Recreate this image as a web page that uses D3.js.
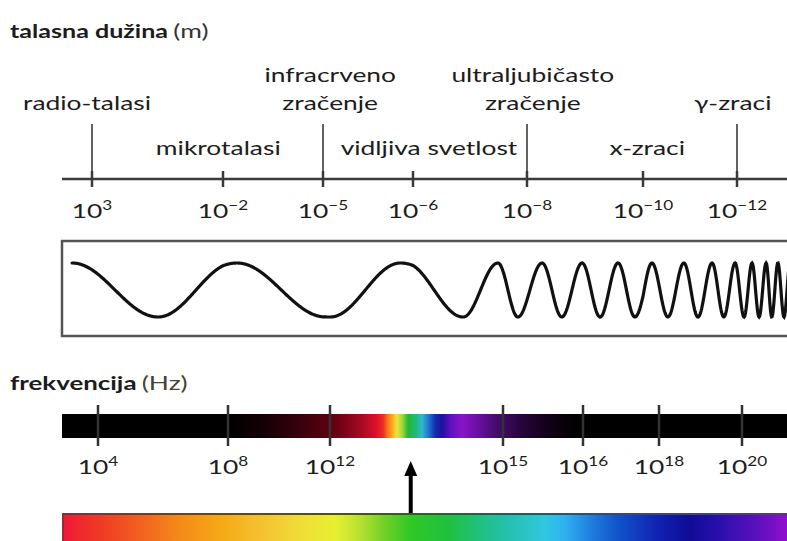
<!DOCTYPE html>
<html><head><meta charset="utf-8">
<script src="https://cdn.jsdelivr.net/npm/d3@7/dist/d3.min.js"></script>
<style>html,body{margin:0;padding:0;background:#fff;}svg{display:block;}</style>
</head><body>
<svg id="c" width="787" height="541"></svg>
<script>
// ---------- data ----------
const wlExponents   = [3, -2, -5, -6, -8, -10, -12];      // wavelength ticks 10^n m
const freqExponents = [4, 8, 12, 15, 16, 18, 20];         // frequency ticks 10^n Hz
const bandLines   = [["radio-talasi"], ["mikrotalasi"], ["infracrveno", "zračenje"], ["vidljiva svetlost"],
                     ["ultraljubičasto", "zračenje"], ["x-zraci"], ["γ-zraci"]];
const bandAt      = [3.19, -1.82, -5.08, -6.28, -8.1, -10.09, -11.91];   // label centre, wavelength exponent
const bandRow     = [1, 2, 0, 2, 0, 2, 1];
const bandMarker  = [true, false, true, false, true, false, true];
// crests / troughs of the drawn wave, in wavelength-axis exponent units
const waveExtrema = [3.76, 0.48, -2.42, -5.08, -5.86, -6.88, -7.49, -7.84, -8.26, -8.60, -8.95,
                     -9.26, -9.57, -9.86, -10.19, -10.53, -10.87, -11.17, -11.47, -11.72, -11.96,
                     -12.15, -12.32, -12.47, -12.62, -12.74, -12.87, -13.0, -13.13];
const visibleArrowAt = 13.4;   // frequency exponent pointed by the arrow

// ---------- layout / style ----------
const W = 787, H = 541;
const FONT = "Lato, 'Open Sans', sans-serif";
const SX = 1.32;
const TXT = "#1c1c1c";
const svg = d3.select("#c");

const wl = d3.scaleLinear().domain(wlExponents).range([92, 223, 323, 413, 527, 643, 737]);
const fq = d3.scaleLinear().domain(freqExponents).range([98, 228, 330, 503, 583, 659, 742]);

function txt(x, y, anchor, size) {
  return svg.append("text")
    .attr("transform", `translate(${x},${y}) scale(${SX},1)`)
    .attr("text-anchor", anchor)
    .attr("font-family", FONT).attr("font-size", size).attr("fill", TXT);
}
function power(x, y, exp) {
  const t = txt(x, y, "middle", 20);
  t.append("tspan").text("10");
  t.append("tspan").attr("dy", -8).attr("font-size", 13).text(exp < 0 ? "−" + (-exp) : String(exp));
}

// ---------- titles ----------
{
  const t = txt(10, 38, "start", 19);
  t.append("tspan").attr("font-weight", "bold").text("talasna dužina");
  t.append("tspan").attr("dx", 4).attr("fill", "#333").attr("font-size", 20).text("(m)");
  const f = txt(10, 390, "start", 19.6);
  f.append("tspan").attr("font-weight", "bold").text("frekvencija");
  f.append("tspan").attr("dx", 4).attr("fill", "#444433").attr("font-size", 20).text("(Hz)");
}

// ---------- wavelength axis ----------
const axisY = 179;
svg.append("line").attr("x1", 62).attr("x2", W).attr("y1", axisY).attr("y2", axisY)
  .attr("stroke", "#3a3a3a").attr("stroke-width", 2.5);
svg.selectAll(".wt").data(wlExponents).join("line")
  .attr("x1", d => wl(d)).attr("x2", d => wl(d)).attr("y1", axisY - 8).attr("y2", axisY + 8)
  .attr("stroke", "#3a3a3a").attr("stroke-width", 2.5);
wlExponents.forEach(e => power(wl(e), 218, e));

const rowY = [82, 110, 155];
bandLines.forEach((lines, i) => {
  lines.forEach((s, k) => txt(wl(bandAt[i]), rowY[bandRow[i] + k], "middle", 20).text(s));
});
svg.selectAll(".bm").data(wlExponents.filter((e, i) => bandMarker[i])).join("line")
  .attr("x1", d => wl(d)).attr("x2", d => wl(d)).attr("y1", 124).attr("y2", axisY)
  .attr("stroke", "#3a3a3a").attr("stroke-width", 1.6);

// ---------- wave box ----------
svg.append("rect").attr("x", 62).attr("y", 241).attr("width", W).attr("height", 95)
  .attr("fill", "#fff").attr("stroke", "#555").attr("stroke-width", 2.5);
const phase = d3.scaleLinear().domain(waveExtrema).range(d3.range(waveExtrema.length));
const wy = d3.scaleLinear().domain([-1, 1]).range([317, 263]);
const x0 = wl(waveExtrema[0]);
const pts = d3.range(x0, W + 2, 0.5).map(px => [px, wy(Math.cos(Math.PI * phase(wl.invert(px))))]);
svg.append("path").attr("d", d3.line()(pts)).attr("fill", "none")
  .attr("stroke", "#111").attr("stroke-width", 3.2).attr("stroke-linecap", "round");

// ---------- gradients ----------
const defs = svg.append("defs");
function grad(id, stops) {
  const g = defs.append("linearGradient").attr("id", id).attr("gradientUnits", "userSpaceOnUse")
    .attr("x1", 62).attr("x2", W).attr("y1", 0).attr("y2", 0);
  stops.forEach(([x, c]) => g.append("stop").attr("offset", (x - 62) / (W - 62)).attr("stop-color", c));
}
grad("fg", [[62,"#000"],[232,"#000"],[270,"#1a0006"],[300,"#38000c"],[333,"#620012"],[358,"#9a0a22"],
  [376,"#dc102a"],[383,"#f02a28"],[388,"#ff7a20"],[393,"#ffb020"],[397,"#f2e040"],[402,"#a8d838"],
  [408,"#28b830"],[415,"#20b870"],[422,"#30b8c8"],[429,"#2070d0"],[435,"#1030b0"],[442,"#2010a0"],
  [451,"#6010c0"],[462,"#8a14c8"],[477,"#6c10a4"],[497,"#460a6c"],[520,"#280540"],[548,"#120018"],
  [575,"#000"],[787,"#000"]]);
grad("sg", [[62,"#f01838"],[100,"#f03a24"],[140,"#f26020"],[180,"#f58a18"],[220,"#f5a815"],
  [260,"#f5c030"],[300,"#f0dc38"],[335,"#e8f030"],[360,"#b8e030"],[385,"#70d028"],[410,"#30c825"],
  [450,"#20c040"],[480,"#20c080"],[510,"#25c0b0"],[545,"#30c8e0"],[565,"#30b0f0"],[590,"#2080e0"],
  [620,"#1050c8"],[660,"#1020b0"],[690,"#100c98"],[725,"#3010b0"],[760,"#6010c0"],[787,"#9010d0"]]);

// ---------- frequency bar ----------
svg.append("rect").attr("x", 62).attr("y", 414).attr("width", W - 62).attr("height", 24).attr("fill", "url(#fg)");
svg.selectAll(".ft").data(freqExponents).join("line")
  .attr("x1", d => fq(d)).attr("x2", d => fq(d)).attr("y1", 405).attr("y2", 446)
  .attr("stroke", "#333").attr("stroke-width", 2.5);
freqExponents.forEach(e => power(fq(e), 474, e));

// ---------- arrow ----------
const ax = fq(visibleArrowAt);
svg.append("line").attr("x1", ax).attr("x2", ax).attr("y1", 514).attr("y2", 472)
  .attr("stroke", "#000").attr("stroke-width", 4);
svg.append("path").attr("d", d3.line()([[ax, 461], [ax - 6.5, 476], [ax + 6.5, 476]]) + "Z").attr("fill", "#000");

// ---------- visible spectrum bar ----------
svg.append("rect").attr("x", 62).attr("y", 514).attr("width", W - 62).attr("height", 30).attr("fill", "url(#sg)");
svg.append("line").attr("x1", 62).attr("x2", W).attr("y1", 514).attr("y2", 514).attr("stroke", "#4a4a4a").attr("stroke-width", 2);
svg.append("line").attr("x1", 63).attr("x2", 63).attr("y1", 514).attr("y2", H).attr("stroke", "#6a3a3a").attr("stroke-width", 1.5);
</script>
</body></html>
